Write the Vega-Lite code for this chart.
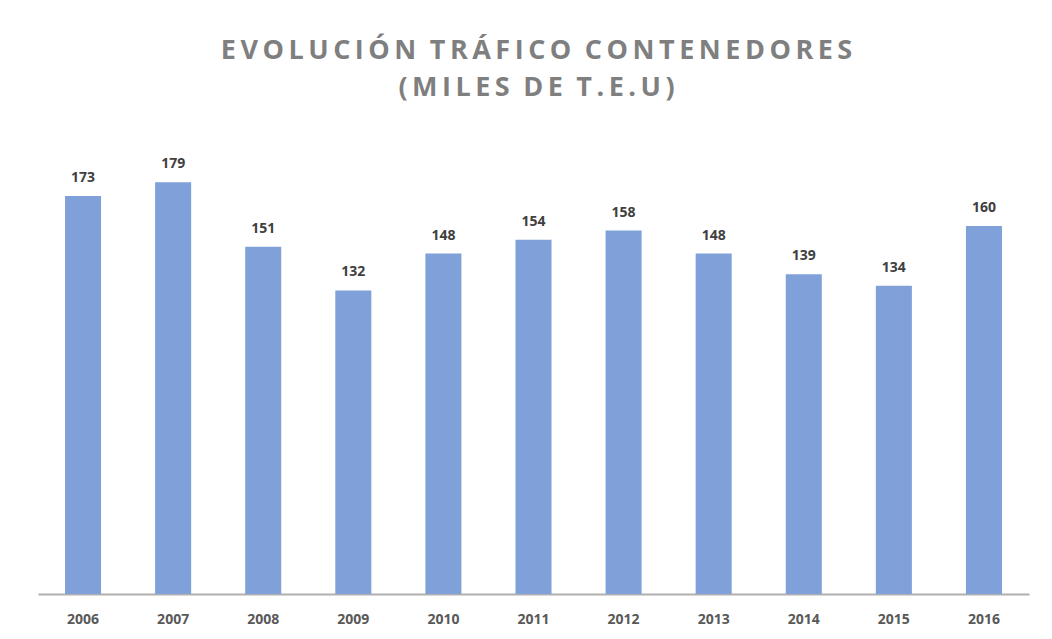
{
  "$schema": "https://vega.github.io/schema/vega-lite/v6.json",
  "width": 991,
  "height": 460,
  "autosize": "none",
  "padding": {"left": 38, "top": 134, "right": 23, "bottom": 45},
  "background": "white",
  "title": {
    "text": ["E\u2006V\u2006O\u2006L\u2006U\u2006C\u2006I\u2006Ó\u2006N\u2002T\u2006R\u2006Á\u2006F\u2006I\u2006C\u2006O\u2002C\u2006O\u2006N\u2006T\u2006E\u2006N\u2006E\u2006D\u2006O\u2006R\u2006E\u2006S", "(\u2006M\u2006I\u2006L\u2006E\u2006S\u2002D\u2006E\u2002T\u2006.\u2006E\u2006.\u2006U\u2006)"],
    "font": "Open Sans",
    "fontSize": 27,
    "fontWeight": "bold",
    "color": "#7f7f7f",
    "anchor": "middle",
    "baseline": "bottom",
    "offset": 5,
    "lineHeight": 37,
    "dx": 3
  },
  "data": {
    "values": [
      {"year": "2006", "teu": 173},
      {"year": "2007", "teu": 179},
      {"year": "2008", "teu": 151},
      {"year": "2009", "teu": 132},
      {"year": "2010", "teu": 148},
      {"year": "2011", "teu": 154},
      {"year": "2012", "teu": 158},
      {"year": "2013", "teu": 148},
      {"year": "2014", "teu": 139},
      {"year": "2015", "teu": 134},
      {"year": "2016", "teu": 160}
    ]
  },
  "config": {"view": {"stroke": null}},
  "encoding": {
    "x": {
      "field": "year",
      "type": "ordinal",
      "scale": {"paddingInner": 0.6, "paddingOuter": 0.3},
      "axis": {
        "title": null,
        "labelAngle": 0,
        "ticks": false,
        "labelPadding": 18,
        "labelFont": "Open Sans",
        "labelFontSize": 14,
        "labelFontWeight": "bold",
        "labelColor": "#595959",
        "domainColor": "#b0b0b0",
        "domainWidth": 2
      }
    },
    "y": {
      "field": "teu",
      "type": "quantitative",
      "scale": {"domain": [0, 200]},
      "axis": null
    }
  },
  "layer": [
    {"mark": {"type": "bar", "color": "#7fa0d8"}},
    {
      "mark": {"type": "text", "baseline": "alphabetic", "dy": -14, "font": "Open Sans", "fontSize": 14, "fontWeight": "bold", "color": "#404040"},
      "encoding": {"text": {"field": "teu", "type": "quantitative"}}
    }
  ]
}
